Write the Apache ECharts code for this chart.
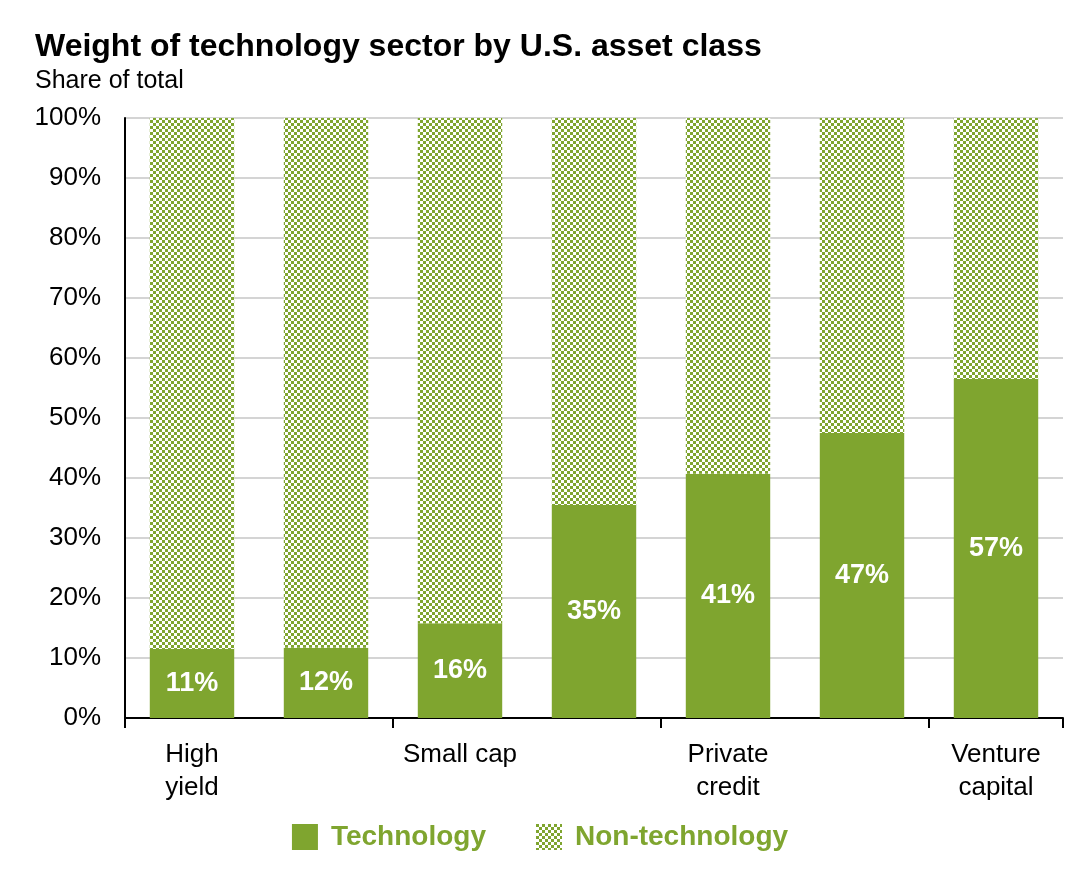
<!DOCTYPE html>
<html>
<head><meta charset="utf-8">
<script src="https://cdn.jsdelivr.net/npm/echarts@6/dist/echarts.min.js"></script>
</head>
<body style="margin:0">
<div id="main" style="width:1080px;height:886px"></div>
<script>
var categories = ['High\nyield', 'IG\nbonds', 'Small cap', 'Private\nequity', 'Private\ncredit', 'S&P 500', 'Venture\ncapital'];
var techValues = [11.5, 11.7, 15.8, 35.5, 40.7, 47.5, 56.5];
var techLabels = ['11%', '12%', '16%', '35%', '41%', '47%', '57%'];
var nonTechValues = techValues.map(function (v) { return 100 - v; });

var green = '#7fa52f';
var pc = document.createElement('canvas');
pc.width = 6; pc.height = 6;
var ctx = pc.getContext('2d');
ctx.fillStyle = '#ffffff'; ctx.fillRect(0, 0, 6, 6);
ctx.fillStyle = green;
ctx.fillRect(0, 0, 3, 3); ctx.fillRect(3, 3, 3, 3);
var pattern = { image: pc, repeat: 'repeat' };

var font = 'Liberation Sans, Arial, sans-serif';
var chart = echarts.init(document.getElementById('main'));
chart.setOption({
  animation: false,
  textStyle: { fontFamily: font },
  title: [
    { text: 'Weight of technology sector by U.S. asset class', left: 30, top: 26,
      textStyle: { fontSize: 32, fontWeight: 'bold', color: '#000', fontFamily: font } },
    { text: 'Share of total', left: 30, top: 64,
      textStyle: { fontSize: 25, fontWeight: 'normal', color: '#000', fontFamily: font } }
  ],
  legend: {
    bottom: 30, left: 'center', itemGap: 50, itemWidth: 26, itemHeight: 26, icon: 'rect',
    textStyle: { fontSize: 28, fontWeight: 'bold', color: green, fontFamily: font, padding: [0, 0, 0, 8] },
    data: [{ name: 'Technology', itemStyle: { color: green } },
           { name: 'Non-technology', itemStyle: { color: pattern } }]
  },
  grid: { left: 125, right: 17, top: 118, bottom: 168 },
  xAxis: {
    type: 'category', data: categories,
    axisLine: { lineStyle: { color: '#000', width: 2 } },
    axisTick: { show: true, length: 10, lineStyle: { color: '#000', width: 2 } },
    axisLabel: { fontSize: 26, color: '#000', margin: 20, lineHeight: 33, fontFamily: font }
  },
  yAxis: {
    type: 'value', min: 0, max: 100, interval: 10,
    axisLine: { show: true, lineStyle: { color: '#000', width: 2 } },
    axisTick: { show: false },
    splitLine: { lineStyle: { color: '#d4d4d4', width: 2 } },
    axisLabel: { formatter: '{value}%', fontSize: 26, color: '#000', margin: 24, fontFamily: font }
  },
  series: [
    { name: 'Technology', type: 'bar', stack: 'a', data: techValues, barCategoryGap: '37%',
      itemStyle: { color: green },
      label: { show: true, position: 'inside', color: '#fff', fontSize: 27, fontWeight: 'bold',
        fontFamily: font, formatter: function (p) { return techLabels[p.dataIndex]; } } },
    { name: 'Non-technology', type: 'bar', stack: 'a', data: nonTechValues,
      itemStyle: { color: pattern } }
  ]
});
</script>
</body>
</html>
